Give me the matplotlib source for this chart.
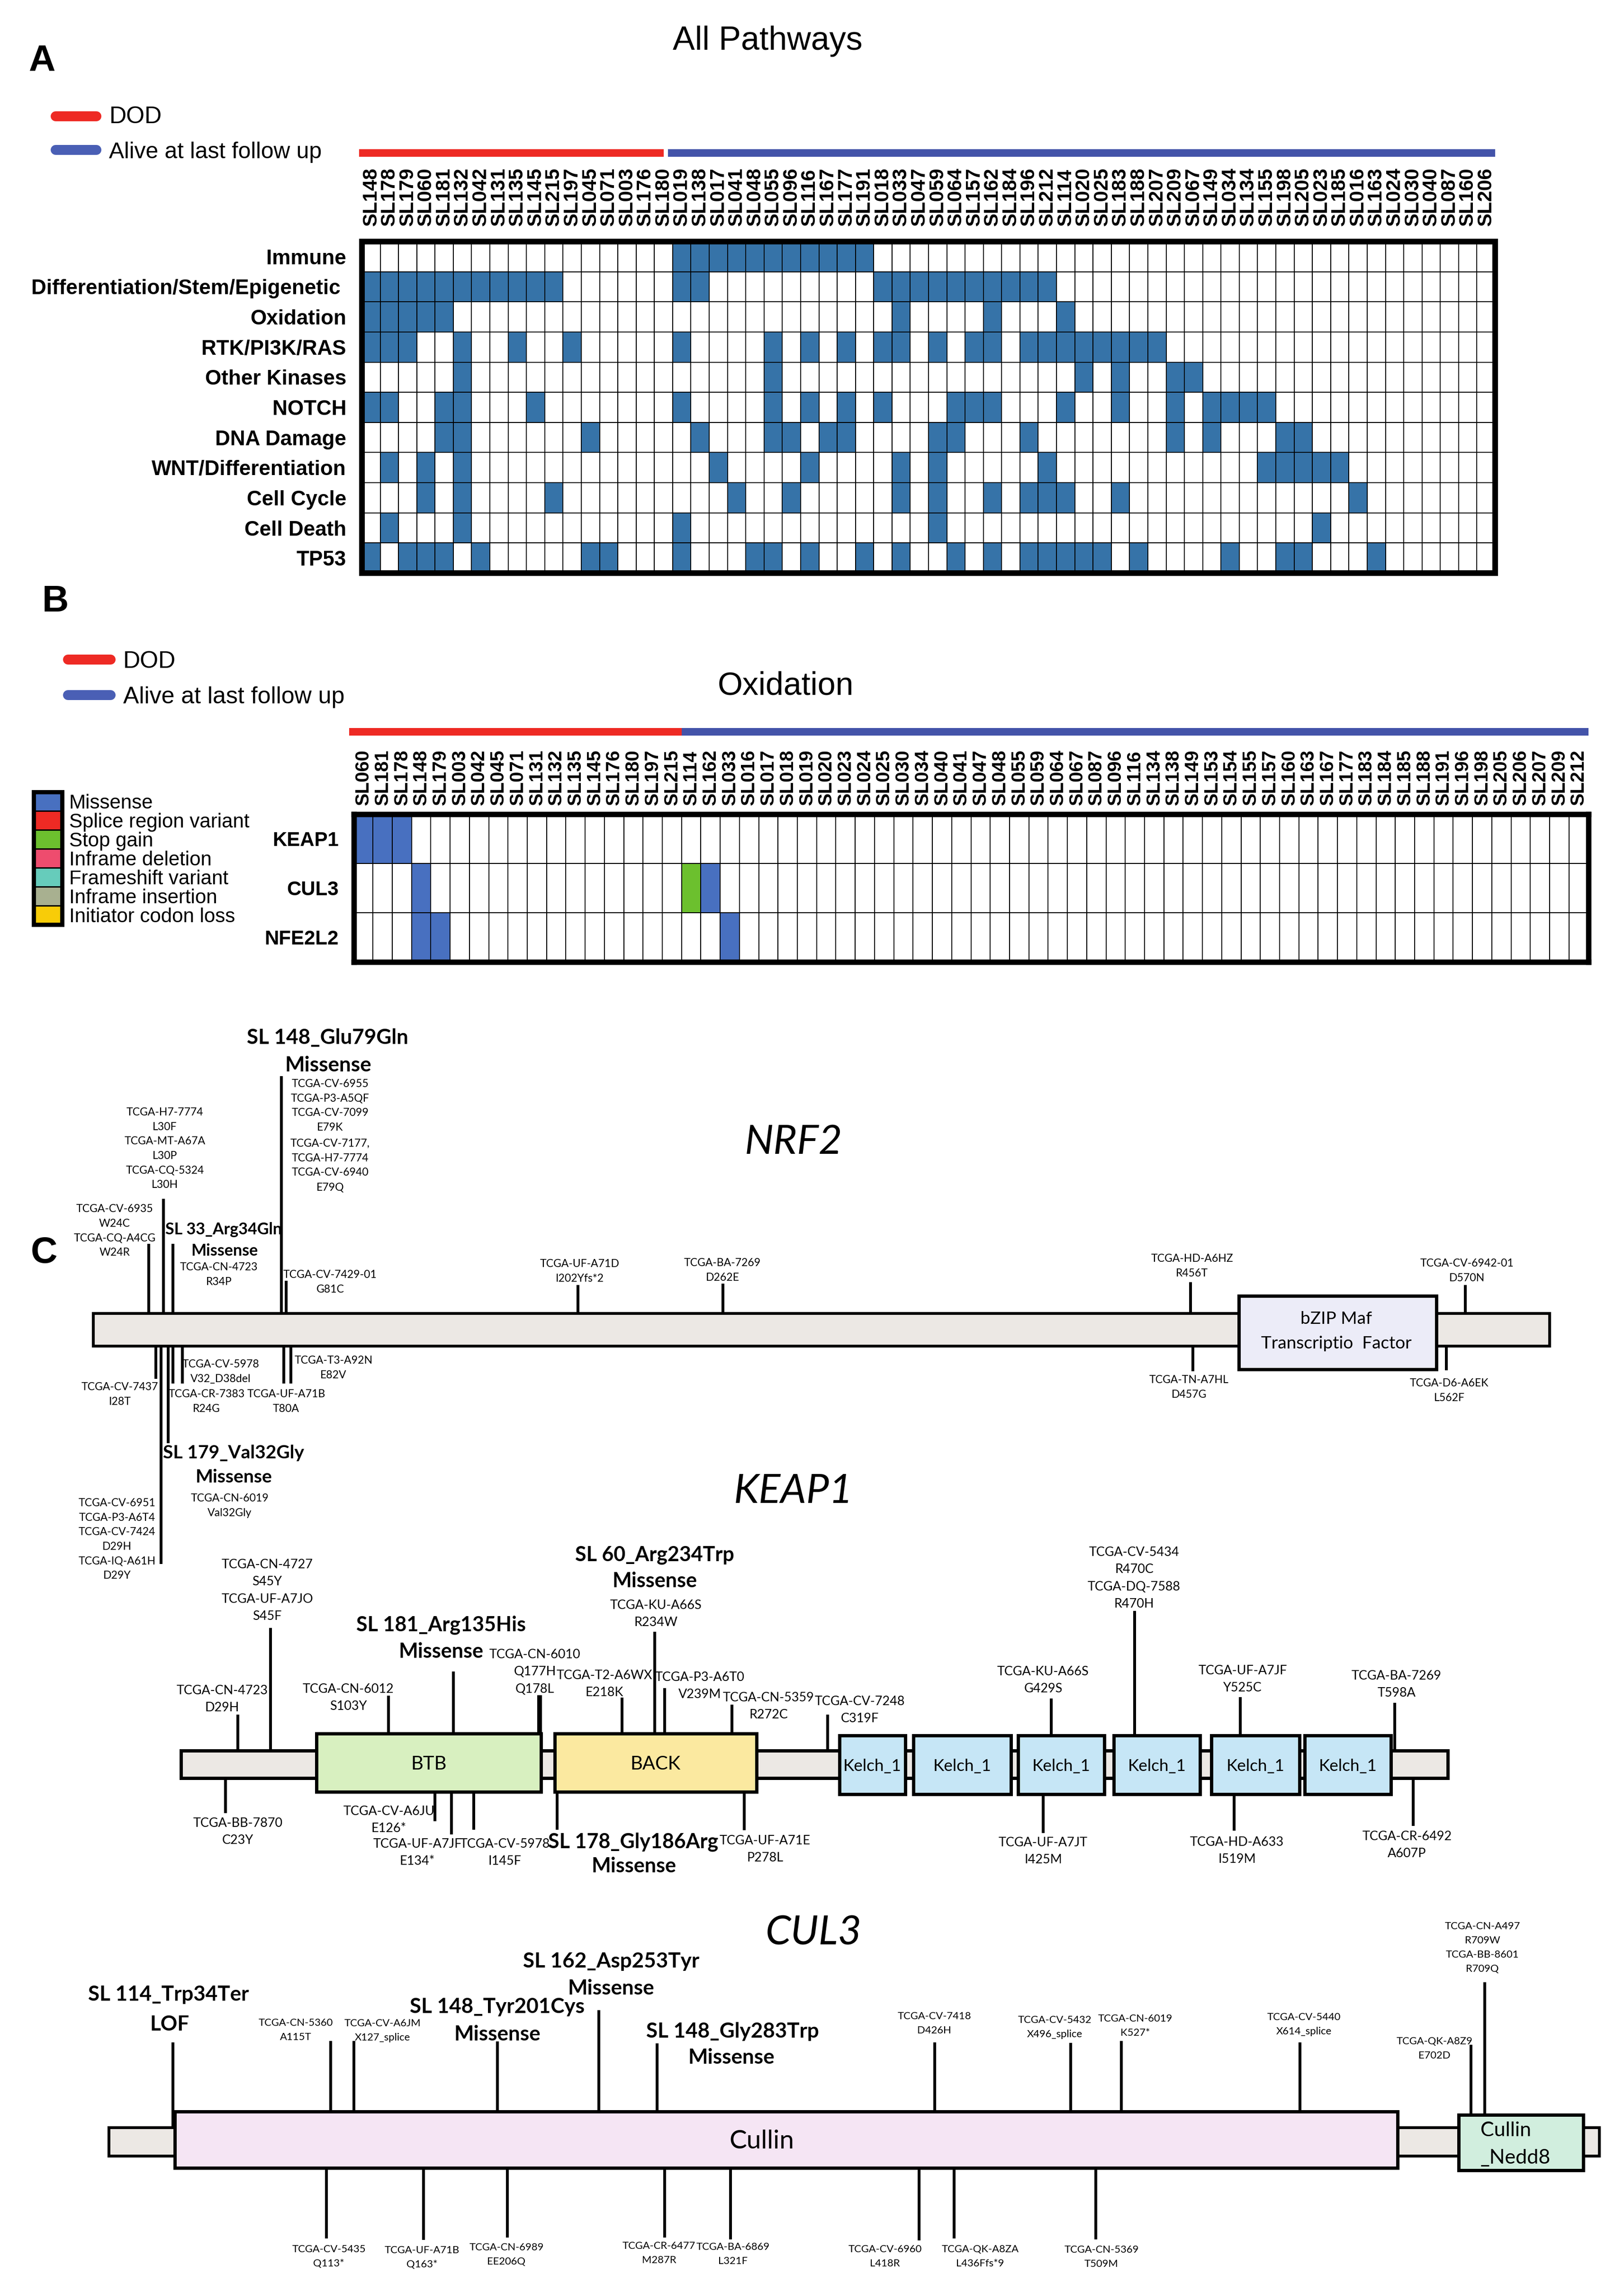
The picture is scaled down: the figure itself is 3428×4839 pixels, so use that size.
import matplotlib
matplotlib.use("Agg")
import matplotlib.pyplot as plt
import numpy as np
from matplotlib.colors import ListedColormap
from matplotlib.patches import Rectangle
from matplotlib import transforms

# ============================ DATA ============================
# ---- Panel A : pathway alterations (1 = altered) ----
samples_a = ["SL148", "SL178", "SL179", "SL060", "SL181", "SL132", "SL042", "SL131", "SL135", "SL145",
             "SL215", "SL197", "SL045", "SL071", "SL003", "SL176", "SL180", "SL019", "SL138", "SL017",
             "SL041", "SL048", "SL055", "SL096", "SL116", "SL167", "SL177", "SL191", "SL018", "SL033",
             "SL047", "SL059", "SL064", "SL157", "SL162", "SL184", "SL196", "SL212", "SL114", "SL020",
             "SL025", "SL183", "SL188", "SL207", "SL209", "SL067", "SL149", "SL034", "SL134", "SL155",
             "SL198", "SL205", "SL023", "SL185", "SL016", "SL163", "SL024", "SL030", "SL040", "SL087",
             "SL160", "SL206"]
n_dod_a = 17
pathways_a = ["Immune", "Differentiation/Stem/Epigenetic ", "Oxidation", "RTK/PI3K/RAS", "Other Kinases",
              "NOTCH", "DNA Damage", "WNT/Differentiation", "Cell Cycle", "Cell Death", "TP53"]
immune     = "0000000000 0000000111 1111111100 0000000000 0000000000 0000000000 00"
diff_stem  = "1111111111 1000000110 0000000011 1111111100 0000000000 0000000000 00"
oxidation  = "1111100000 0000000000 0000000001 0000100010 0000000000 0000000000 00"
rtk_pi3k   = "1110010010 0100000100 0010101011 0101101111 1111000000 0000000000 00"
other_kin  = "0000010000 0000000000 0010000000 0000000001 0100110000 0000000000 00"
notch      = "1100110001 0000000100 0010101010 0011100010 0100101111 0000000000 00"
dna_damage = "0000110000 0010000010 0011011000 0110001000 0000101000 1100000000 00"
wnt_diff   = "0101010000 0000000001 0000100001 0100000100 0000000001 1111000000 00"
cell_cycle = "0001010000 1000000000 1001000001 0100101110 0100000000 0000100000 00"
cell_death = "0100010000 0000000100 0000000000 0100000000 0000000000 0010000000 00"
tp53       = "1011101000 0011000100 0110100101 0010101111 1010000100 1100010000 00"
rows_a = [immune, diff_stem, oxidation, rtk_pi3k, other_kin, notch, dna_damage,
          wnt_diff, cell_cycle, cell_death, tp53]

# ---- Panel B : oxidation genes ----
samples_b = ["SL060", "SL181", "SL178", "SL148", "SL179", "SL003", "SL042", "SL045", "SL071", "SL131",
             "SL132", "SL135", "SL145", "SL176", "SL180", "SL197", "SL215", "SL114", "SL162", "SL033",
             "SL016", "SL017", "SL018", "SL019", "SL020", "SL023", "SL024", "SL025", "SL030", "SL034",
             "SL040", "SL041", "SL047", "SL048", "SL055", "SL059", "SL064", "SL067", "SL087", "SL096",
             "SL116", "SL134", "SL138", "SL149", "SL153", "SL154", "SL155", "SL157", "SL160", "SL163",
             "SL167", "SL177", "SL183", "SL184", "SL185", "SL188", "SL191", "SL196", "SL198", "SL205",
             "SL206", "SL207", "SL209", "SL212"]
n_dod_b = 17
genes_b = ["KEAP1", "CUL3", "NFE2L2"]
keap1_mut = {"SL060": "Missense", "SL181": "Missense", "SL178": "Missense"}
cul3_mut = {"SL148": "Missense", "SL114": "Stop gain", "SL162": "Missense"}
nfe2l2_mut = {"SL148": "Missense", "SL179": "Missense", "SL033": "Missense"}
mut_types = ["Missense", "Splice region variant", "Stop gain", "Inframe deletion",
             "Frameshift variant", "Inframe insertion", "Initiator codon loss"]
mut_colors = ["#4870C0", "#EE2A24", "#6CC02E", "#EE4C6E", "#66CCBB", "#A8B090", "#F8CC08"]

# ---- Panel C : lollipop diagrams (amino-acid positions) ----
nrf2_len = 605
nrf2_domains = [(476, 558)]
nrf2_up_pos = [24, 30, 34, 79, 81, 202, 262, 456, 570]
nrf2_down_pos = [27, 29, 32, 34, 38, 80, 83, 457, 562]

keap1_len = 624
keap1_domains = [(67, 179), (184, 285), (324, 358), (360.5, 410), (412, 456), (459, 503), (507, 552), (553, 597)]
keap1_domain_names = ["BTB", "BACK", "Kelch_1", "Kelch_1", "Kelch_1", "Kelch_1", "Kelch_1", "Kelch_1"]
keap1_up_pos = [29, 45, 103, 135, 177, 178, 218, 234, 239, 272, 319, 429, 470, 522, 598]
keap1_down_pos = [23, 126, 134, 145, 186, 278, 425, 519, 607]

cul3_len = 768
cul3_domains = [(34, 665), (695, 760.5)]
cul3_up_pos = [34, 115, 127, 201, 253, 283, 426, 496, 522, 614, 702, 709]
cul3_down_pos = [113, 163, 206, 287, 321, 418, 436, 509]

# ============================ LAYOUT / STYLE ============================
W, H = 3428, 4839
DPI = 100
PT = 72.0 / DPI
ARIAL = ["Liberation Sans", "DejaVu Sans"]
CAL = ["Lato", "DejaVu Sans"]
RED = "#EE2A24"
BLUE = "#4353A9"
CELL_BLUE = "#3673A8"
BAR_GREY = "#ECE8E4"

fig = plt.figure(figsize=(W / DPI, H / DPI), dpi=DPI)
fig.patch.set_facecolor("white")


def px_axes(x0, y0, x1, y1):
    return fig.add_axes([x0 / W, 1 - y1 / H, (x1 - x0) / W, (y1 - y0) / H])


ov = px_axes(0, 0, W, H)
ov.set_xlim(0, W)
ov.set_ylim(H, 0)
ov.axis("off")
ov.set_zorder(20)


def txt(x, yc, s, px, fam=CAL, weight="normal", style="normal", ha="center", cap=0.72):
    ov.text(x, yc + cap * px / 2.0, s, fontsize=px * PT, family=fam, fontweight=weight,
            fontstyle=style, ha=ha, va="baseline")


# ---------------- Panel A ----------------
txt(88, 121, "A", 78, fam=ARIAL, weight="bold")
txt(1620, 80, "All Pathways", 70, fam=ARIAL)
ov.plot([117, 203], [245, 245], color=RED, lw=21 * PT, solid_capstyle="round")
ov.plot([117, 203], [316, 316], color="#4A5FB5", lw=21 * PT, solid_capstyle="round")
txt(231, 242, "DOD", 50, fam=ARIAL, ha="left")
txt(230, 317, "Alive at last follow up", 48, fam=ARIAL, ha="left")

axA = px_axes(764, 510, 3156, 1210)
matA = np.array([[int(c) for c in r.replace(" ", "")] for r in rows_a])
axA.pcolormesh(np.arange(len(samples_a) + 1), np.arange(len(pathways_a) + 1), matA,
               cmap=ListedColormap(["white", CELL_BLUE]), vmin=0, vmax=1,
               edgecolors="black", linewidth=2 * PT)
axA.set_xlim(0, len(samples_a))
axA.set_ylim(len(pathways_a), 0)
axA.xaxis.tick_top()
axA.set_xticks(np.arange(len(samples_a)) + 0.5)
axA.set_xticklabels(samples_a, rotation=90, fontsize=42 * PT, fontweight="bold", family=ARIAL)
axA.set_yticks(np.arange(len(pathways_a)) + 0.5)
axA.set_yticklabels(pathways_a, fontsize=44 * PT, fontweight="bold", family=ARIAL)
axA.tick_params(axis="x", length=0, pad=33 * PT)
axA.tick_params(axis="y", length=0, pad=33 * PT)
for sp in axA.spines.values():
    sp.set_linewidth(12 * PT)

trA = transforms.blended_transform_factory(axA.transData, ov.transData)
ov.plot([-0.15, n_dod_a - 0.5], [323, 323], color=RED, lw=16 * PT, transform=trA,
        solid_capstyle="butt", clip_on=False)
ov.plot([n_dod_a - 0.25, len(samples_a)], [323, 323], color=BLUE, lw=16 * PT, transform=trA,
        solid_capstyle="butt", clip_on=False)

# ---------------- Panel B ----------------
txt(117, 1263, "B", 78, fam=ARIAL, weight="bold")
ov.plot([143, 233], [1392, 1392], color=RED, lw=21 * PT, solid_capstyle="round")
ov.plot([143, 233], [1467, 1467], color="#4A5FB5", lw=21 * PT, solid_capstyle="round")
txt(260, 1392, "DOD", 50, fam=ARIAL, ha="left")
txt(260, 1467, "Alive at last follow up", 50, fam=ARIAL, ha="left")
txt(1658, 1442, "Oxidation", 68, fam=ARIAL)

for i, (lab, col) in enumerate(zip(mut_types, mut_colors)):
    ov.add_patch(Rectangle((71.5, 1672 + 40 * i), 60, 40, fc=col, ec="black", lw=3 * PT))
    txt(146, 1692 + 40 * i, lab, 42, fam=ARIAL, ha="left")
ov.add_patch(Rectangle((71.5, 1672), 60, 280, fill=False, ec="black", lw=9 * PT))

axB = px_axes(746.5, 1718.5, 3352.5, 2031)
codes = []
for muts in [keap1_mut, cul3_mut, nfe2l2_mut]:
    codes.append([mut_types.index(muts[s]) + 1 if s in muts else 0 for s in samples_b])
codes = np.array(codes)
axB.pcolormesh(np.arange(len(samples_b) + 1), np.arange(len(genes_b) + 1), codes,
               cmap=ListedColormap(["white"] + mut_colors), vmin=-0.5, vmax=len(mut_types) + 0.5,
               edgecolors="black", linewidth=2 * PT)
axB.set_xlim(0, len(samples_b))
axB.set_ylim(len(genes_b), 0)
axB.xaxis.tick_top()
axB.set_xticks(np.arange(len(samples_b)) + 0.5)
axB.set_xticklabels(samples_b, rotation=90, fontsize=40 * PT, fontweight="bold", family=ARIAL)
axB.set_yticks(np.arange(len(genes_b)) + 0.5)
axB.set_yticklabels(genes_b, fontsize=42 * PT, fontweight="bold", family=ARIAL)
axB.tick_params(axis="x", length=0, pad=18 * PT)
axB.tick_params(axis="y", length=0, pad=32 * PT)
for sp in axB.spines.values():
    sp.set_linewidth(11.5 * PT)

trB = transforms.blended_transform_factory(axB.transData, ov.transData)
ov.plot([-0.23, n_dod_b], [1545, 1545], color=RED, lw=16 * PT, transform=trB,
        solid_capstyle="butt", clip_on=False)
ov.plot([n_dod_b, len(samples_b)], [1545, 1545], color=BLUE, lw=16 * PT, transform=trB,
        solid_capstyle="butt", clip_on=False)

# ---------------- Panel C ----------------
txt(93, 2638, "C", 78, fam=ARIAL, weight="bold")


def protein_axes(a, b):
    ax = px_axes(0, 0, W, H)
    ax.set_xlim(-a / b, (W - a) / b)
    ax.set_ylim(H, 0)
    ax.axis("off")
    return ax


def small_labels(entries, dy, px):
    for lines, x, y0 in entries:
        for k, s in enumerate(lines):
            txt(x, y0 + k * dy, s, px)


def bold_labels(entries, px):
    for s, x, y in entries:
        txt(x, y, s, px, weight="bold")


STEM = 6 * PT

# ---- NRF2 ----
axN = protein_axes(192, 5.09)
nrf2_bar = (2773, 2842)
nrf2_up_top = [2626, 2531, 2626, 2272, 2704, 2713, 2710, 2707, 2713]
nrf2_down_bot = [2911, 3302, 3047, 2921, 2921, 2921, 2921, 2895, 2893]
yc = sum(nrf2_bar) / 2
axN.vlines(nrf2_up_pos, nrf2_up_top, yc, color="black", lw=STEM, zorder=1)
axN.vlines(nrf2_down_pos, yc, nrf2_down_bot, color="black", lw=STEM, zorder=1)
axN.add_patch(Rectangle((1, nrf2_bar[0]), nrf2_len - 1, nrf2_bar[1] - nrf2_bar[0],
                        fc=BAR_GREY, ec="black", lw=6 * PT, zorder=2))
for s, e in nrf2_domains:
    axN.add_patch(Rectangle((s, 2736), e - s, 155, fc="#ECECF8", ec="black", lw=7 * PT, zorder=3))
txt(2821, 2782, "bZIP Maf", 37)
txt(2821, 2834, "Transcriptio  Factor", 37)
txt(1675, 2405, "NRF2", 86, style="italic")

nrf2_small = [
    (["TCGA-CV-6935", "W24C", "TCGA-CQ-A4CG", "W24R"], 242, 2551),
    (["TCGA-H7-7774", "L30F", "TCGA-MT-A67A", "L30P", "TCGA-CQ-5324", "L30H"], 348, 2347),
    (["TCGA-CN-4723", "R34P"], 462, 2674),
    (["TCGA-CV-6955", "TCGA-P3-A5QF", "TCGA-CV-7099", "E79K"], 697, 2287),
    (["TCGA-CV-7177,", "TCGA-H7-7774", "TCGA-CV-6940", "E79Q"], 697, 2413),
    (["TCGA-CV-7429-01", "G81C"], 697, 2690),
    (["TCGA-UF-A71D", "I202Yfs*2"], 1224, 2667),
    (["TCGA-BA-7269", "D262E"], 1525, 2665),
    (["TCGA-HD-A6HZ", "R456T"], 2516, 2656),
    (["TCGA-CV-6942-01", "D570N"], 3097, 2666),
    (["TCGA-CV-7437", "I28T"], 253, 2927),
    (["TCGA-CV-6951", "TCGA-P3-A6T4", "TCGA-CV-7424", "D29H", "TCGA-IQ-A61H", "D29Y"], 247, 3172),
    (["TCGA-CN-6019", "Val32Gly"], 485, 3162),
    (["TCGA-CR-7383", "R24G"], 436, 2942),
    (["TCGA-CV-5978", "V32_D38del"], 466, 2879),
    (["TCGA-UF-A71B", "T80A"], 604, 2942),
    (["TCGA-T3-A92N", "E82V"], 704, 2871),
    (["TCGA-TN-A7HL", "D457G"], 2510, 2912),
    (["TCGA-D6-A6EK", "L562F"], 3059, 2919),
]
small_labels(nrf2_small, 30.6, 23)
for s, x, y, px in [("SL 148_Glu79Gln", 691, 2188, 44), ("Missense", 693, 2246, 44),
                    ("SL 33_Arg34Gln", 472, 2594, 34), ("Missense", 474, 2639, 34),
                    ("SL 179_Val32Gly", 493, 3065, 39), ("Missense", 494, 3116, 39)]:
    txt(x, y, s, px, weight="bold")

# ---- KEAP1 ----
axK = protein_axes(377.5, 4.292)
keap1_bar = (3696, 3754)
keap1_up_top = [3620, 3437, 3580, 3529, 3579, 3579, 3584, 3445, 3564, 3599, 3620, 3586, 3401, 3583, 3595]
keap1_down_bot = [3828, 3845, 3873, 3863, 3863, 3864, 3870, 3865, 3855]
yc = sum(keap1_bar) / 2
axK.vlines(keap1_up_pos, keap1_up_top, yc, color="black", lw=STEM, zorder=1)
axK.vlines(keap1_down_pos, yc, keap1_down_bot, color="black", lw=STEM, zorder=1)
axK.add_patch(Rectangle((1, keap1_bar[0]), keap1_len - 1, keap1_bar[1] - keap1_bar[0],
                        fc=BAR_GREY, ec="black", lw=7 * PT, zorder=2))
dom_fc = {"BTB": "#D8F0C0", "BACK": "#FBE9A0", "Kelch_1": "#C6E6F6"}
for (s, e), name in zip(keap1_domains, keap1_domain_names):
    y0, y1 = (3660, 3783) if name != "Kelch_1" else (3664, 3788)
    axK.add_patch(Rectangle((s + 0.8, y0), e - s - 1.6, y1 - y0, fc=dom_fc[name], ec="black",
                            lw=7 * PT, zorder=3))
    axK.text((s + e) / 2, (y0 + y1) / 2 + 0.36 * (40 if name != "Kelch_1" else 35), name,
             fontsize=(40 if name != "Kelch_1" else 35) * PT, family=CAL, ha="center",
             va="baseline", zorder=4)
txt(1675, 3142, "KEAP1", 86, style="italic")

keap1_small = [
    (["TCGA-CN-4723", "D29H"], 469, 3567),
    (["TCGA-CN-4727", "S45Y", "TCGA-UF-A7JO", "S45F"], 564, 3301),
    (["TCGA-CN-6012", "S103Y"], 735, 3564),
    (["TCGA-CN-6010", "Q177H", "Q178L"], 1129, 3491),
    (["TCGA-T2-A6WX", "E218K"], 1276, 3535),
    (["TCGA-KU-A66S", "R234W"], 1385, 3387),
    (["TCGA-P3-A6T0", "V239M"], 1477, 3539),
    (["TCGA-CN-5359", "R272C"], 1622, 3582),
    (["TCGA-CV-7248", "C319F"], 1815, 3590),
    (["TCGA-KU-A66S", "G429S"], 2202, 3527),
    (["TCGA-CV-5434", "R470C", "TCGA-DQ-7588", "R470H"], 2394, 3275),
    (["TCGA-UF-A7JF", "Y525C"], 2623, 3525),
    (["TCGA-BA-7269", "T598A"], 2948, 3536),
    (["TCGA-BB-7870", "C23Y"], 502, 3847),
    (["TCGA-CV-A6JU", "E126*"], 821, 3822),
    (["TCGA-UF-A7JF", "E134*"], 881, 3891),
    (["TCGA-CV-5978", "I145F"], 1066, 3891),
    (["TCGA-UF-A71E", "P278L"], 1615, 3884),
    (["TCGA-UF-A7JT", "I425M"], 2202, 3888),
    (["TCGA-HD-A633", "I519M"], 2611, 3887),
    (["TCGA-CR-6492", "A607P"], 2970, 3875),
]
small_labels(keap1_small, 36.5, 27)
bold_labels([("SL 181_Arg135His", 931, 3428), ("Missense", 931, 3485),
             ("SL 60_Arg234Trp", 1382, 3280), ("Missense", 1382, 3336),
             ("SL 178_Gly186Arg", 1337, 3886), ("Missense", 1338, 3938)], 43)

# ---- CUL3 ----
axC = protein_axes(226, 4.101)
cul3_bar = (4492, 4552)
cul3_up_top = [4312, 4309, 4309, 4310, 4244, 4314, 4312, 4313, 4309, 4312, 4317, 4185]
cul3_down_bot = [4726, 4729, 4724, 4724, 4728, 4730, 4726, 4728]
yc = sum(cul3_bar) / 2
axC.vlines(cul3_up_pos, cul3_up_top, yc, color="black", lw=STEM, zorder=1)
axC.vlines(cul3_down_pos, yc, cul3_down_bot, color="black", lw=STEM, zorder=1)
axC.add_patch(Rectangle((1, cul3_bar[0]), cul3_len - 1, cul3_bar[1] - cul3_bar[0],
                        fc=BAR_GREY, ec="black", lw=6 * PT, zorder=2))
(c0, c1), (n0, n1) = cul3_domains
axC.add_patch(Rectangle((c0 + 0.8, 4458), c1 - c0 - 1.6, 119, fc="#F5E5F4", ec="black", lw=7 * PT, zorder=3))
axC.add_patch(Rectangle((n0 + 0.8, 4465), n1 - n0 - 1.6, 117, fc="#D1EEDE", ec="black", lw=7 * PT, zorder=3))
txt(1608, 4516, "Cullin", 55)
txt(3125, 4495, "Cullin", 43, ha="left")
txt(3125, 4553, "_Nedd8", 43, ha="left")
txt(1717, 4075, "CUL3", 86, style="italic")

cul3_small = [
    (["TCGA-CN-5360", "A115T"], 624, 4269),
    (["TCGA-CV-A6JM", "X127_splice"], 807, 4270),
    (["TCGA-CV-7418", "D426H"], 1972, 4255),
    (["TCGA-CV-5432", "X496_splice"], 2226, 4263),
    (["TCGA-CN-6019", "K527*"], 2396, 4260),
    (["TCGA-CV-5440", "X614_splice"], 2752, 4257),
    (["TCGA-QK-A8Z9", "E702D"], 3028, 4308),
    (["TCGA-CN-A497", "R709W", "TCGA-BB-8601", "R709Q"], 3129, 4065),
    (["TCGA-CV-5435", "Q113*"], 694, 4747),
    (["TCGA-UF-A71B", "Q163*"], 891, 4749),
    (["TCGA-CN-6989", "EE206Q"], 1069, 4743),
    (["TCGA-CR-6477", "M287R"], 1391, 4740),
    (["TCGA-BA-6869", "L321F"], 1547, 4742),
    (["TCGA-CV-6960", "L418R"], 1868, 4747),
    (["TCGA-QK-A8ZA", "L436Ffs*9"], 2069, 4747),
    (["TCGA-CN-5369", "T509M"], 2325, 4748),
]
small_labels(cul3_small, 30, 22)
bold_labels([("SL 114_Trp34Ter", 356, 4208), ("LOF", 358, 4271),
             ("SL 148_Tyr201Cys", 1050, 4234), ("Missense", 1050, 4292),
             ("SL 162_Asp253Tyr", 1290, 4138), ("Missense", 1290, 4195),
             ("SL 148_Gly283Trp", 1546, 4286), ("Missense", 1544, 4341)], 44)

fig.savefig("out.png", dpi=DPI, facecolor="white")
